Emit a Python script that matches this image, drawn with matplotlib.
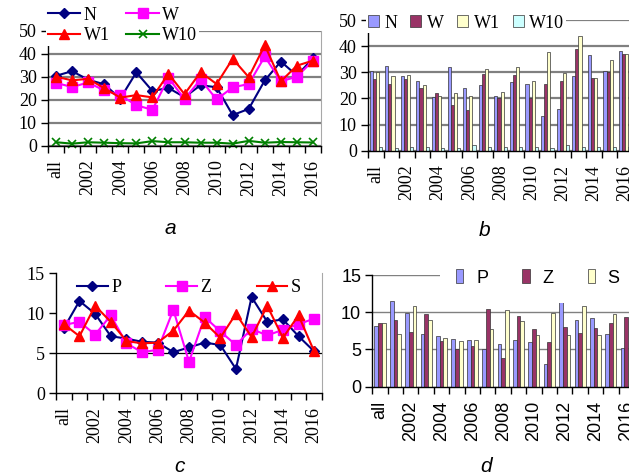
import matplotlib
matplotlib.use("Agg")
import matplotlib.pyplot as plt
import numpy as np

# ---------------------------------------------------------------------------
# data
# ---------------------------------------------------------------------------
categories = ["all", "2001", "2002", "2003", "2004", "2005", "2006", "2007", "2008",
              "2009", "2010", "2011", "2012", "2013", "2014", "2015", "2016"]
shown_labels = ["all", "2002", "2004", "2006", "2008", "2010", "2012", "2014", "2016"]

N = [30.4, 32.4, 28.7, 26.7, 20.5, 31.9, 23.8, 25.1, 21.1, 26.3, 25.4, 13.3, 16.0, 28.4, 36.6, 30.5, 38.0]
W = [27.3, 25.5, 27.5, 24.0, 22.0, 17.6, 15.6, 29.5, 20.3, 28.8, 20.1, 25.4, 26.8, 38.8, 28.0, 30.0, 37.0]
W1 = [30.0, 28.4, 29.1, 25.0, 20.9, 22.0, 21.0, 31.3, 22.4, 32.0, 26.8, 37.8, 29.8, 43.7, 28.0, 34.8, 37.0]
W10 = [1.5, 0.9, 1.5, 1.3, 1.1, 1.0, 2.0, 1.5, 1.5, 1.3, 1.3, 0.9, 2.1, 1.3, 1.6, 1.5, 1.4]

P = [8.1, 11.5, 9.9, 7.1, 6.8, 6.4, 6.3, 5.1, 5.7, 6.3, 6.0, 3.0, 12.0, 8.9, 9.2, 7.1, 5.2]
Z = [8.5, 8.9, 7.3, 9.7, 6.2, 5.1, 5.4, 10.4, 3.9, 9.5, 7.7, 6.0, 8.0, 7.2, 7.9, 8.6, 9.3]
S = [8.6, 7.1, 10.9, 8.9, 6.5, 6.2, 6.3, 7.8, 10.3, 8.8, 6.9, 9.9, 7.0, 10.9, 6.9, 9.7, 5.2]

# ---------------------------------------------------------------------------
# style
# ---------------------------------------------------------------------------
SERIF = "Liberation Serif"
SANS = "Liberation Sans"
FS = 13

LINE_STYLE = {
    "N": dict(color="#000080", marker="D", ms=5),
    "W": dict(color="#FF00FF", marker="s", ms=6.5),
    "W1": dict(color="#FF0000", marker="^", ms=7.5),
    "W10": dict(color="#008000", marker="x", ms=6, mew=1.2),
    "P": dict(color="#000080", marker="D", ms=5),
    "Z": dict(color="#FF00FF", marker="s", ms=6.5),
    "S": dict(color="#FF0000", marker="^", ms=7.5),
}
BAR_COLORS = {"N": "#9999FF", "W": "#993366", "W1": "#FFFFCC", "W10": "#CCFFFF",
              "P": "#9999FF", "Z": "#993366", "S": "#FFFFCC"}


def fig_box(left, top, right, bottom):
    """axes rectangle from pixel coordinates of the 629x476 canvas"""
    return [left / 629, 1 - bottom / 476, (right - left) / 629, (bottom - top) / 476]


def category_axis(ax, family, right_spine=True):
    n = len(categories)
    ax.set_xlim(-0.5, n - 0.5)
    ax.set_xticks([categories.index(c) for c in shown_labels])
    ax.set_xticklabels(shown_labels, rotation=90, family=family, fontsize=FS)
    ax.set_xticks(np.arange(-0.5, n, 1.0), minor=True)
    ax.tick_params(axis="x", which="major", length=0, pad=10)
    ax.tick_params(axis="x", which="minor", length=5, width=1, direction="out")
    ax.tick_params(axis="y", length=5, width=1, direction="out", pad=3)
    for lab in ax.get_yticklabels():
        lab.set_family(family)
        lab.set_fontsize(FS)
    ax.spines["top"].set_visible(False)
    ax.spines["left"].set_linewidth(1)
    ax.spines["bottom"].set_linewidth(1)
    if right_spine:
        ax.spines["right"].set_color("#a8a8a8")
    else:
        ax.spines["right"].set_visible(False)


def grouped_bars(ax, series, names, width):
    x = np.arange(len(categories))
    k = len(series)
    for i, (vals, name) in enumerate(zip(series, names)):
        off = (i - (k - 1) / 2) * width
        ax.bar(x + off, vals, width, color=BAR_COLORS[name], edgecolor="#333333", linewidth=0.5, label=name)


fig = plt.figure(figsize=(6.29, 4.76), dpi=100)

# ---- a: lines N / W / W1 / W10 -------------------------------------------
ax_a = fig.add_axes(fig_box(48, 30.7, 321, 145.7))
x = np.arange(len(categories))
h = {}
for name, vals in zip(["N", "W", "W1", "W10"], [N, W, W1, W10]):
    h[name], = ax_a.plot(x, vals, lw=1.5, label=name, clip_on=False, **LINE_STYLE[name])
ax_a.set_ylim(0, 50)
ax_a.set_yticks([0, 10, 20, 30, 40, 50])
ax_a.yaxis.grid(True, color="#808080", lw=1.6)
ax_a.set_axisbelow(True)
category_axis(ax_a, SERIF)
ax_a.legend([h["N"], h["W1"], h["W"], h["W10"]], ["N", "W1", "W", "W10"], ncol=2,
            loc="center left", bbox_to_anchor=(46 / 629, 1 - 25.5 / 476), bbox_transform=fig.transFigure,
            prop={"family": SERIF, "size": FS}, handlelength=1.8, handletextpad=0.2,
            columnspacing=0.9, labelspacing=0.22, borderpad=0.1, borderaxespad=0,
            frameon=True, fancybox=False, edgecolor="none", facecolor="white", framealpha=1)

# ---- b: bars N / W / W1 / W10 --------------------------------------------
ax_b = fig.add_axes(fig_box(368, 20, 633, 150.7))
grouped_bars(ax_b, [N, W, W1, W10], ["N", "W", "W1", "W10"], 0.2)
ax_b.set_ylim(0, 50)
ax_b.set_yticks([0, 10, 20, 30, 40, 50])
ax_b.yaxis.grid(True, color="#808080", lw=1.6)
ax_b.set_axisbelow(True)
category_axis(ax_b, SERIF, right_spine=False)
ax_b.legend(ncol=4, loc="center left", bbox_to_anchor=(366 / 629, 1 - 23 / 476), bbox_transform=fig.transFigure,
            prop={"family": SERIF, "size": FS}, handlelength=0.6, handleheight=0.6, handletextpad=0.3,
            columnspacing=0.75, borderpad=0.1, borderaxespad=0,
            frameon=True, fancybox=False, edgecolor="none", facecolor="white", framealpha=1)

# ---- c: lines P / Z / S ----------------------------------------------------
ax_c = fig.add_axes(fig_box(56, 273, 322, 393))
for name, vals in zip(["P", "Z", "S"], [P, Z, S]):
    ax_c.plot(x, vals, lw=1.5, label=name, clip_on=False, **LINE_STYLE[name])
ax_c.set_ylim(0, 15)
ax_c.set_yticks([0, 5, 10, 15])
ax_c.axhline(5, color="black", lw=0.9, zorder=0)
category_axis(ax_c, SERIF)
ax_c.legend(ncol=3, loc="center left", bbox_to_anchor=(75 / 629, 1 - 288 / 476), bbox_transform=fig.transFigure,
            prop={"family": SERIF, "size": FS}, handlelength=1.7, handletextpad=0.2,
            columnspacing=2.5, borderpad=0.1, borderaxespad=0, frameon=False)

# ---- d: bars P / Z / S -----------------------------------------------------
ax_d = fig.add_axes(fig_box(372.3, 275, 634, 386.7))
grouped_bars(ax_d, [P, Z, S], ["P", "Z", "S"], 0.24)
ax_d.set_ylim(0, 15)
ax_d.set_yticks([0, 5, 10, 15])
ax_d.yaxis.grid(True, color="#808080", lw=1.0)
ax_d.set_axisbelow(True)
category_axis(ax_d, SANS, right_spine=False)
ax_d.legend(ncol=3, loc="center left", bbox_to_anchor=(440 / 629, 1 - 278 / 476), bbox_transform=fig.transFigure,
            prop={"family": SANS, "size": FS}, handlelength=0.4, handleheight=0.8, handletextpad=0.7,
            columnspacing=1.9, borderpad=0.9, borderaxespad=0,
            frameon=True, fancybox=False, edgecolor="none", facecolor="white", framealpha=1)

# ---- panel letters ---------------------------------------------------------
for letter, px, py in [("a", 170, 228), ("b", 485, 230), ("c", 180, 466), ("d", 486, 467)]:
    fig.text(px / 629, 1 - py / 476, letter, family=SANS, style="italic", fontsize=15,
             ha="center", va="center")

fig.savefig("out.png", dpi=100)
